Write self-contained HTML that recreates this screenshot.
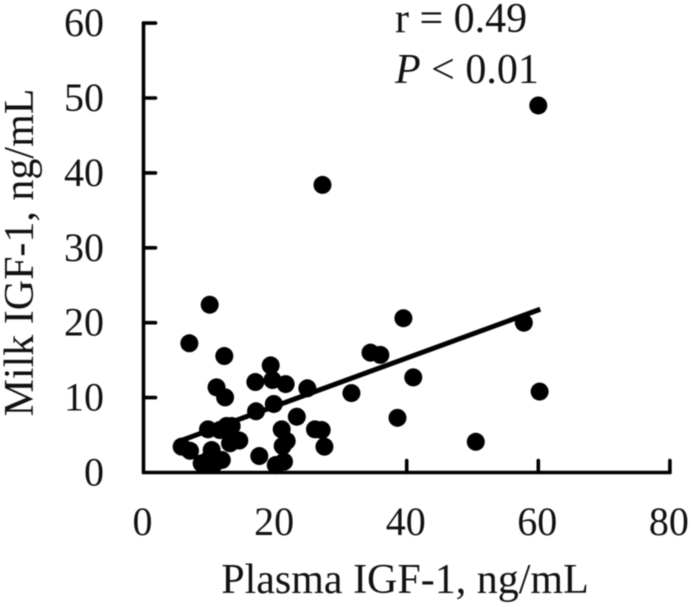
<!DOCTYPE html>
<html>
<head>
<meta charset="utf-8">
<style>
html,body{margin:0;padding:0;background:#fff;}
#chart{display:block;width:692px;height:607px;filter:blur(0.5px);}
text{font-family:"Liberation Serif",serif;fill:#111;}
</style>
</head>
<body>
<svg id="chart" xmlns="http://www.w3.org/2000/svg" width="692" height="607" viewBox="0 0 692 607">
<g id="axes"></g>
<g id="points"></g>
<g id="trend"></g>
<text x="405" y="593" font-size="42" text-anchor="middle">Plasma IGF-1, ng/mL</text>
<text transform="translate(33,252.5) rotate(-90)" font-size="42" text-anchor="middle">Milk IGF-1, ng/mL</text>
<text x="395" y="32" font-size="42">r = 0.49</text>
<text x="395" y="83" font-size="42"><tspan font-style="italic">P</tspan> &lt; 0.01</text>
</svg>
<script>
const xTicks = [0, 20, 40, 60, 80];
const yTicks = [0, 10, 20, 30, 40, 50, 60];
const plasmaValues = [10.06, 6.97, 12.28, 19.33, 17.0, 19.6, 21.6, 24.9, 11.1, 12.4, 31.6, 19.8, 17.1, 23.3, 9.8, 11.6, 12.6, 13.4, 21.0, 26.06, 27.08, 21.76, 21.15, 27.5, 14.56, 13.15, 5.8, 7.07, 17.6, 10.36, 11.9, 9.85, 8.84, 10.6, 21.35, 20.1, 39.5, 38.6, 41.0, 34.5, 36.0, 50.5, 57.8, 60.2, 60.0, 27.2];
const milkValues = [22.4, 17.25, 15.55, 14.3, 12.08, 12.35, 11.8, 11.24, 11.37, 10.03, 10.6, 9.15, 8.17, 7.45, 5.76, 5.67, 6.2, 6.2, 5.76, 5.76, 5.67, 4.2, 3.54, 3.45, 4.27, 3.9, 3.45, 2.9, 2.2, 3.0, 1.67, 1.67, 1.22, 1.0, 1.45, 1.0, 20.6, 7.3, 12.7, 16.0, 15.7, 4.1, 20.0, 10.8, 49.0, 38.4];
const trendX = [5.8, 60.3];
const trendY = [4.3, 21.8];

const NS = 'http://www.w3.org/2000/svg';
function sx(v){ return 143.5 + v * 6.58; }
function sy(v){ return 472.5 - v * 7.49; }
function make(tag, attrs, parent){
  const el = document.createElementNS(NS, tag);
  for (const k in attrs) el.setAttribute(k, attrs[k]);
  parent.appendChild(el);
  return el;
}
const axes = document.getElementById('axes');
const lineStyle = {stroke:'#000','stroke-width':3.6,'stroke-linecap':'round'};

const xAxis = make('line', Object.assign({x1:sx(0),y1:sy(0),x2:sx(80),y2:sy(0)}, lineStyle), axes);


const yAxis = make('line', Object.assign({x1:sx(0),y1:sy(0),x2:sx(0),y2:sy(60)}, lineStyle), axes);



xTicks.forEach(function(t){
  if (t !== 0) {
    const tick = make('line', Object.assign({x1:sx(t),y1:sy(0),x2:sx(t),y2:sy(0)-12}, lineStyle), axes);
    
    
  }
  const label = make('text', {x:sx(t)-1,y:535,'font-size':40,'text-anchor':'middle'}, axes);
  label.textContent = t;
  
  
});
yTicks.forEach(function(t){
  if (t !== 0) {
    const tick = make('line', Object.assign({x1:sx(0),y1:sy(t),x2:sx(0)+12,y2:sy(t)}, lineStyle), axes);
    
    
  }
  const label = make('text', {x:104,y:sy(t)+13,'font-size':40,'text-anchor':'end'}, axes);
  label.textContent = t;
  
  
});

const pts = document.getElementById('points');
plasmaValues.forEach(function(v, i){
  const c = make('circle', {cx:sx(v),cy:sy(milkValues[i]),r:9,fill:'#000'}, pts);
  
  
});

const trend = make('line', {x1:sx(trendX[0]),y1:sy(trendY[0]),x2:sx(trendX[1]),y2:sy(trendY[1]),stroke:'#000','stroke-width':5}, document.getElementById('trend'));


</script>
</body>
</html>
